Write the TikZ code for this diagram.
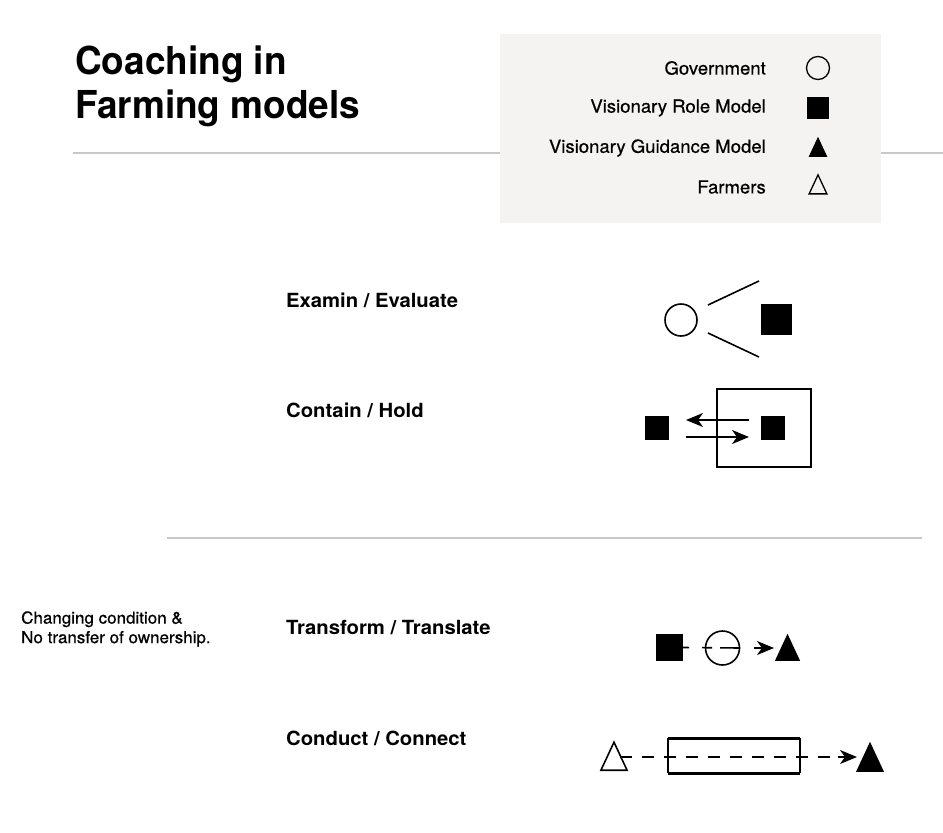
\documentclass[tikz,border=0pt]{standalone}
\usepackage{fontspec}
\setmainfont{TeX Gyre Heros}
\newfontfamily\headfont{TeX Gyre Heros}[FakeStretch=0.96]
\newfontfamily\bodyfont{TeX Gyre Heros}[FakeStretch=1.04]
\newfontfamily\legendfont{TeX Gyre Heros}[FakeStretch=1.03,FakeBold=0.6]
\usetikzlibrary{shapes.geometric,arrows.meta}
\definecolor{panel}{HTML}{F4F3F2}
\definecolor{rule}{HTML}{C8C8C8}
\tikzset{
  title/.style={anchor=base west,font=\headfont\bfseries\fontsize{38.5}{42}\selectfont,inner sep=0pt},
  rowlabel/.style={anchor=west,font=\bodyfont\bfseries\fontsize{19.5}{22}\selectfont,inner sep=0pt},
  legtext/.style={anchor=east,font=\legendfont\fontsize{18}{20}\selectfont,inner sep=0pt},
  note/.style={anchor=west,font=\legendfont\fontsize{16.5}{19.5}\selectfont,inner sep=0pt,align=left},
  gov/.style={circle,draw,line width=1.6pt,minimum size=#1,inner sep=0pt},
  vrm/.style={rectangle,fill=black,minimum size=#1,inner sep=0pt},
  tri/.style={isosceles triangle,isosceles triangle apex angle=50,shape border rotate=90,minimum height=#1,inner sep=0pt,anchor=lower side},
  vgm/.style={tri=#1,fill=black},
  frm/.style={tri=#1,draw,line width=1.6pt},
  link/.style={line width=1.6pt},
  tip/.style={-{Stealth[length=17pt,width=14pt,inset=5pt]}},
  hrule/.style={rule,line width=1.2pt}
}
\begin{document}
\begin{tikzpicture}[x=1pt,y=-1pt]
\useasboundingbox (0,0) rectangle (943,833);
\fill[white] (0,0) rectangle (943,833);

% header rule and legend panel
\coordinate (r1a) at (73,153);
\coordinate (r1b) at (943,153);
\draw[hrule] (r1a) -- (r1b);
\fill[panel] (500,34) rectangle (881,223);

\node[title] (t1) at (75,74) {Coaching in};
\node[title] (t2) at (75,118.5) {Farming models};

% legend
\node[legtext] (lg1) at (766,68) {Government};
\node[legtext] (lg2) at (766,108) {Visionary Role Model};
\node[legtext] (lg3) at (766,148) {Visionary Guidance Model};
\node[legtext] (lg4) at (766,187) {Farmers};
\node[gov=23pt,line width=1.3pt] (ls1) at (818,68) {};
\node[vrm=22pt] (ls2) at (818,108) {};
\node[vgm=20pt] (ls3) at (818,157) {};
\node[frm=19pt,line width=1.3pt] (ls4) at (818,194.5) {};

% Examin / Evaluate
\node[rowlabel] (l1) at (286,300) {Examin / Evaluate};
\node[gov=32pt] (e1) at (681,320) {};
\node[vrm=31pt] (e2) at (776.5,319.5) {};
\coordinate (e3a) at (708,305);
\coordinate (e3b) at (759,281);
\coordinate (e4a) at (708,333);
\coordinate (e4b) at (759,357);
\draw[link] (e3a) -- (e3b);
\draw[link] (e4a) -- (e4b);

% Contain / Hold
\node[rowlabel] (l2) at (286,410) {Contain / Hold};
\node[vrm=24pt] (c1) at (657,428) {};
\node[rectangle,draw,line width=1.6pt,minimum width=94pt,minimum height=78pt,inner sep=0pt] (c0) at (764,428) {};
\node[vrm=24pt] (c2) at (773,428) {};
\coordinate (c3a) at (749,420);
\coordinate (c3b) at (686,420);
\coordinate (c4a) at (686,437);
\coordinate (c4b) at (749,437);
\draw[link,tip] (c3a) -- (c3b);
\draw[link,tip] (c4a) -- (c4b);

% section rule
\coordinate (r2a) at (167,538);
\coordinate (r2b) at (922,538);
\draw[hrule] (r2a) -- (r2b);

\node[note] (n1) at (21,629) {Changing condition \&\\No transfer of ownership.};

% Transform / Translate
\node[rowlabel] (l3) at (286,628) {Transform / Translate};
\node[vrm=27pt] (f1) at (669.5,647.5) {};
\node[gov=34pt] (f2) at (722.5,648) {};
\node[vgm=27pt] (f3) at (787.5,661) {};
\coordinate (f4) at (754,648);
\coordinate (f5) at (774,648);
\draw[link,dash pattern=on 6pt off 13pt on 10pt off 8pt on 20pt off 100pt] (f1.east) -- (f2.east);
\draw[link,tip] (f4) -- (f5);

% Conduct / Connect
\node[rowlabel] (l4) at (286,738) {Conduct / Connect};
\node[frm=28pt] (k1) at (614,771) {};
\node[vgm=30pt] (k3) at (870,772) {};
\coordinate (k0a) at (668,738);
\coordinate (k0b) at (800,773);
\draw[line width=3pt] (k0a) -- (k0b |- k0a);
\draw[line width=3pt] (k0a |- k0b) -- (k0b);
\draw[line width=1.2pt] (k0a) -- (k0a |- k0b);
\draw[line width=1.2pt] (k0b |- k0a) -- (k0b);
\coordinate (k4) at (620,757);
\coordinate (k5) at (838,757);
\coordinate (k6) at (857,757);
\draw[link,dash pattern=on 12pt off 10pt] (k4) -- (k5);
\draw[link,tip] (k5) -- (k6);
\end{tikzpicture}
\end{document}
